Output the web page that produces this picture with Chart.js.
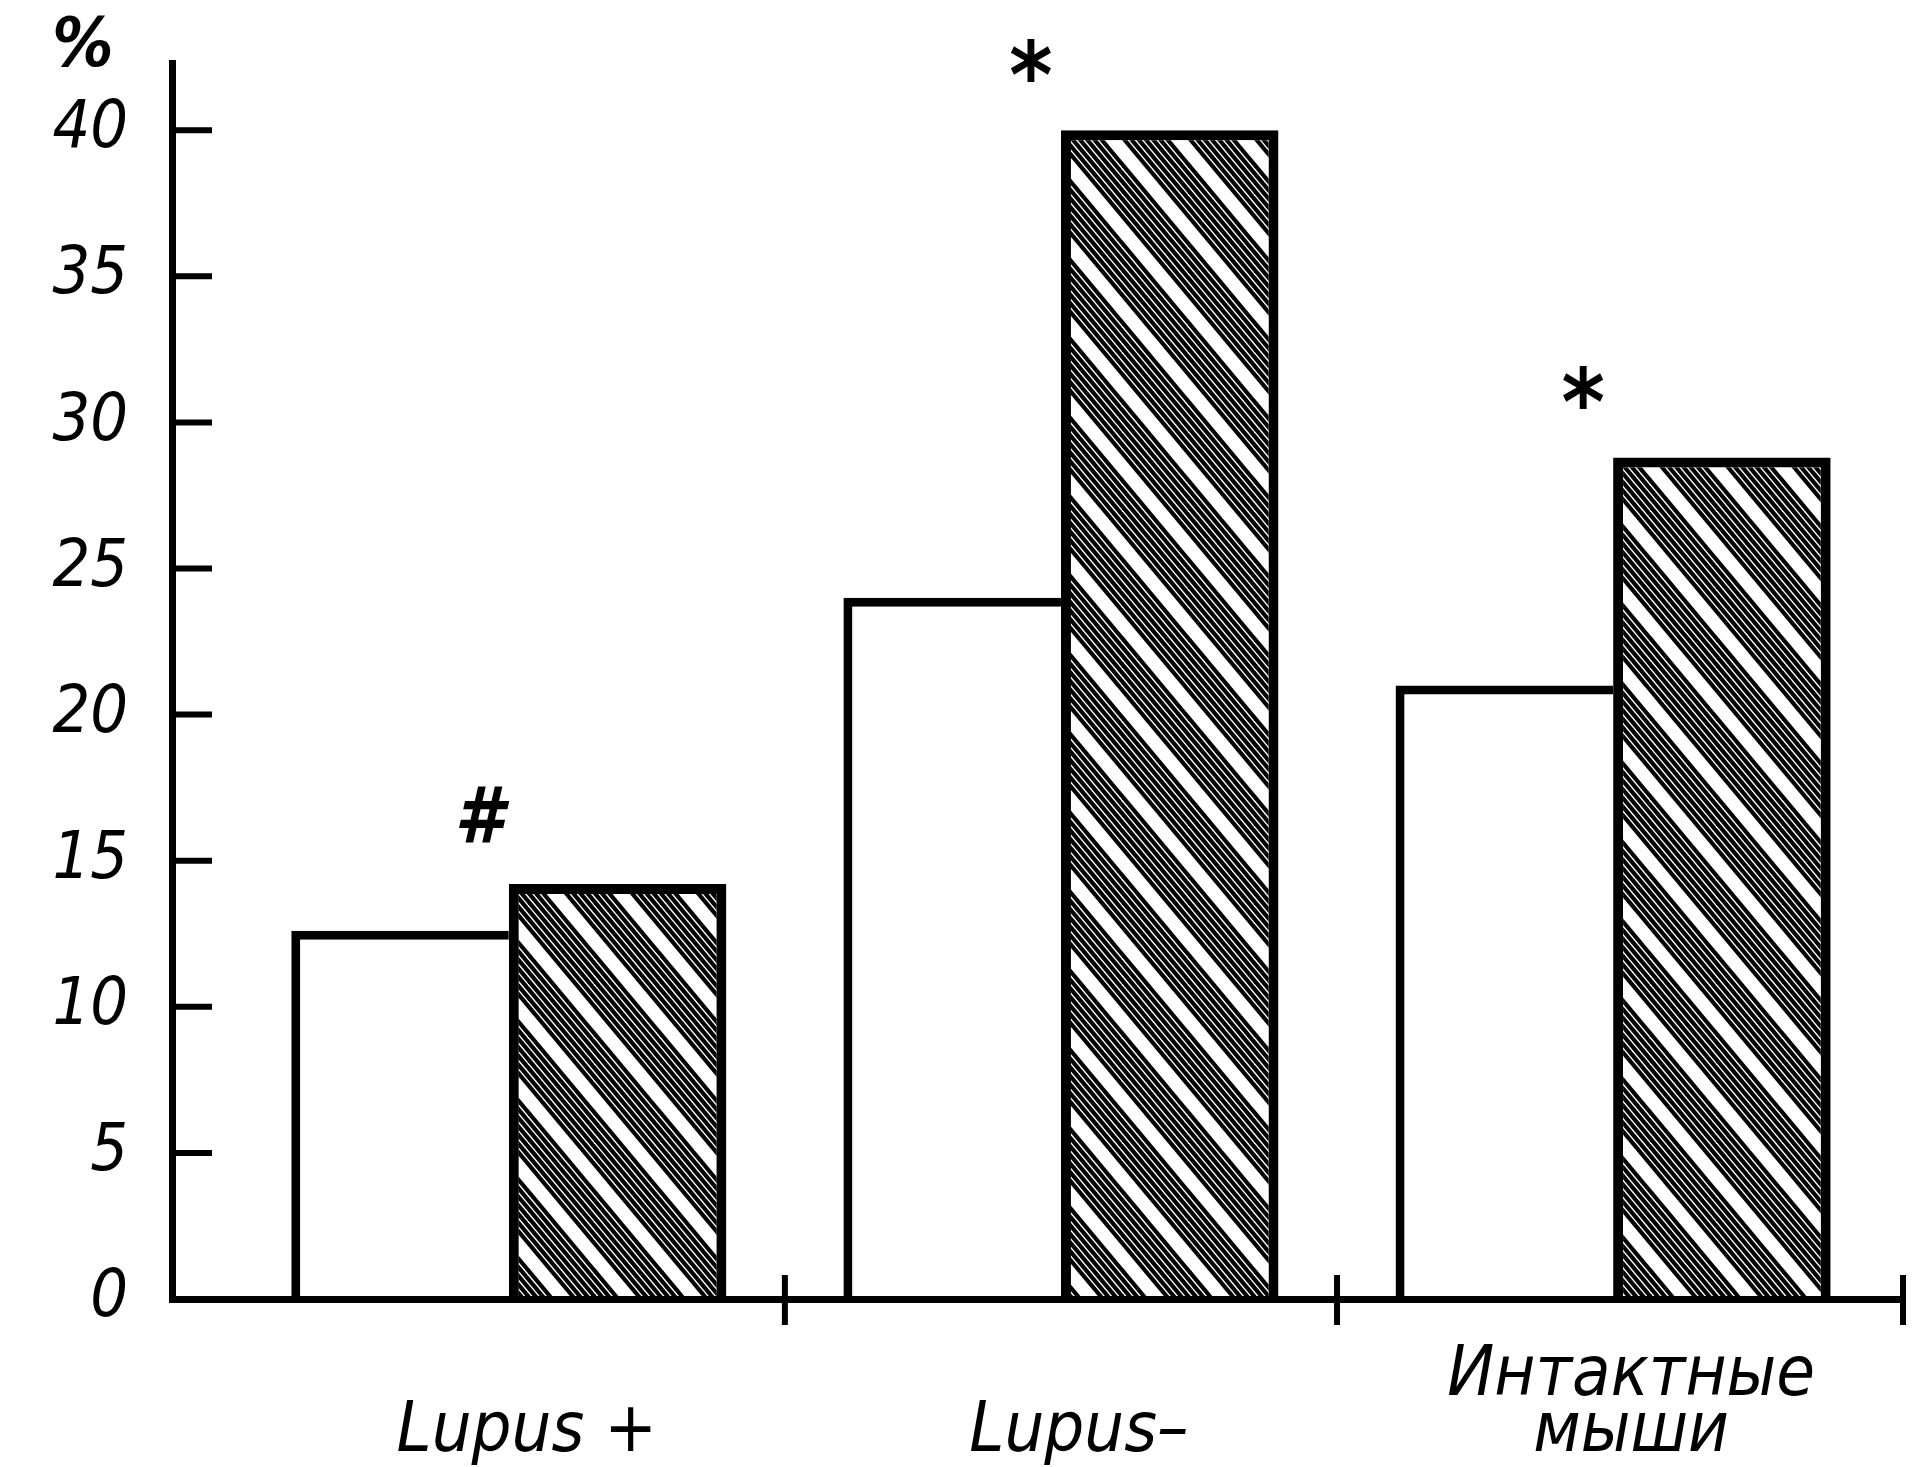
<!DOCTYPE html>
<html>
<head>
<meta charset="utf-8">
<script src="https://cdn.jsdelivr.net/npm/chart.js@4.4.1/dist/chart.umd.min.js"></script>
<style>
  html, body { margin: 0; padding: 0; background: #fff; }
  #wrap { width: 1931px; height: 1467px; }
</style>
</head>
<body>
<div id="wrap"><canvas id="grafico"></canvas></div>
<script>
// values
const categories = [['Lupus +'], ['Lupus–'], ['Интактные', 'мыши']];
const plainValues = [12.6, 24.0, 21.0];
const hatchedValues = [14.2, 40.0, 28.8];
const marks = ['#', '*', '*'];
const yTicks = [0, 5, 10, 15, 20, 25, 30, 35, 40];
const xDividers = [0.5, 1.5];

const font = "'DejaVu Sans Condensed', 'DejaVu Sans', sans-serif";
const ctx = document.getElementById('grafico').getContext('2d');

// diagonal hatching, groups of thin lines with a wider white gap
function hatchPattern(context) {
    const w = 66, h = 79;
    const tile = document.createElement('canvas');
    tile.width = w;
    tile.height = h;
    const c = tile.getContext('2d');
    c.fillStyle = '#fff';
    c.fillRect(0, 0, w, h);
    c.fillStyle = '#000';
    [15, 22.2, 29.4, 36.6, 43.8, 51, 58.2].forEach(function(a) {
        [-w, 0, w].forEach(function(s) {
            c.beginPath();
            c.moveTo(a + s, 0);
            c.lineTo(a + s + 5.4, 0);
            c.lineTo(a + s + 5.4 + w, h);
            c.lineTo(a + s + w, h);
            c.closePath();
            c.fill();
        });
    });
    return context.createPattern(tile, 'repeat');
}

// ticks, dividers, % sign and significance marks
const extras = {
    id: 'extras',
    afterDraw(chart) {
        const c = chart.ctx;
        const x = chart.scales.x;
        const y = chart.scales.y;
        c.save();
        c.strokeStyle = '#000';
        c.lineWidth = 6;

        yTicks.slice(1).forEach(function(v) {
            const py = y.getPixelForValue(v);
            c.beginPath();
            c.moveTo(x.left, py);
            c.lineTo(x.left + 40, py);
            c.stroke();
        });

        xDividers.concat([x.max]).forEach(function(v) {
            const px = x.getPixelForValue(v);
            c.beginPath();
            c.moveTo(px, y.bottom - 24);
            c.lineTo(px, y.bottom + 26);
            c.stroke();
        });

        c.fillStyle = '#000';
        c.textAlign = 'center';
        c.textBaseline = 'alphabetic';
        c.font = 'italic bold 68px ' + font;
        let m = c.measureText('%');
        c.fillText('%', y.left + 83, y.top - 22 + (m.actualBoundingBoxAscent - m.actualBoundingBoxDescent) / 2);

        marks.forEach(function(mark, i) {
            c.font = mark === '#' ? 'italic bold 78px ' + font : 'bold 92px ' + font;
            const top = Math.max(plainValues[i], hatchedValues[i]);
            const px = x.getPixelForValue(i) - 30;
            const py = y.getPixelForValue(top) - 70;
            const mt = c.measureText(mark);
            c.fillText(mark, px, py + (mt.actualBoundingBoxAscent - mt.actualBoundingBoxDescent) / 2);
        });
        c.restore();
    }
};

let chart = new Chart(ctx, {
    type: 'bar',
    data: {
        datasets: [{
            data: plainValues.map(function(v, i) { return { x: i, y: v }; }),
            backgroundColor: '#fff',
            borderColor: '#000',
            borderWidth: { top: 9, left: 9, right: 0, bottom: 0 },
            borderSkipped: false,
            categoryPercentage: 0.788,
            barPercentage: 1
        }, {
            data: hatchedValues.map(function(v, i) { return { x: i, y: v }; }),
            backgroundColor: hatchPattern(ctx),
            borderColor: '#000',
            borderWidth: { top: 10, left: 10, right: 10, bottom: 0 },
            borderSkipped: false,
            categoryPercentage: 0.788,
            barPercentage: 1
        }]
    },
    options: {
        responsive: true,
        maintainAspectRatio: false,
        animation: false,
        layout: { padding: { top: 63, right: 28, left: 0, bottom: 0 } },
        plugins: {
            legend: { display: false },
            tooltip: { enabled: false }
        },
        scales: {
            x: {
                type: 'linear',
                offset: false,
                min: -0.61,
                max: 2.525,
                grid: { display: false, drawTicks: false, offset: false },
                border: { display: true, color: '#000', width: 7, z: 1 },
                afterBuildTicks: function(s) {
                    s.ticks = categories.map(function(c, i) { return { value: i }; });
                },
                afterFit: function(s) {
                    s.height = 168;
                    s.paddingLeft = 0;
                    s.paddingRight = 0;
                },
                ticks: {
                    autoSkip: false,
                    maxRotation: 0,
                    padding: 78,
                    labelOffset: 18,
                    crossAlign: 'far',
                    color: '#000',
                    font: { family: font, size: 70, style: 'italic', lineHeight: 0.8 },
                    callback: function(v) { return categories[v]; }
                }
            },
            y: {
                min: 0,
                max: 42.3,
                grid: { display: false, drawTicks: false },
                border: { display: true, color: '#000', width: 7, z: 1 },
                afterBuildTicks: function(s) {
                    s.ticks = yTicks.map(function(v) { return { value: v }; });
                },
                afterFit: function(s) {
                    s.width = 172;
                    s.paddingTop = 0;
                    s.paddingBottom = 0;
                },
                ticks: {
                    padding: 44,
                    color: '#000',
                    font: { family: font, size: 66, style: 'italic' }
                }
            }
        }
    },
    plugins: [extras]
});
</script>
</body>
</html>
